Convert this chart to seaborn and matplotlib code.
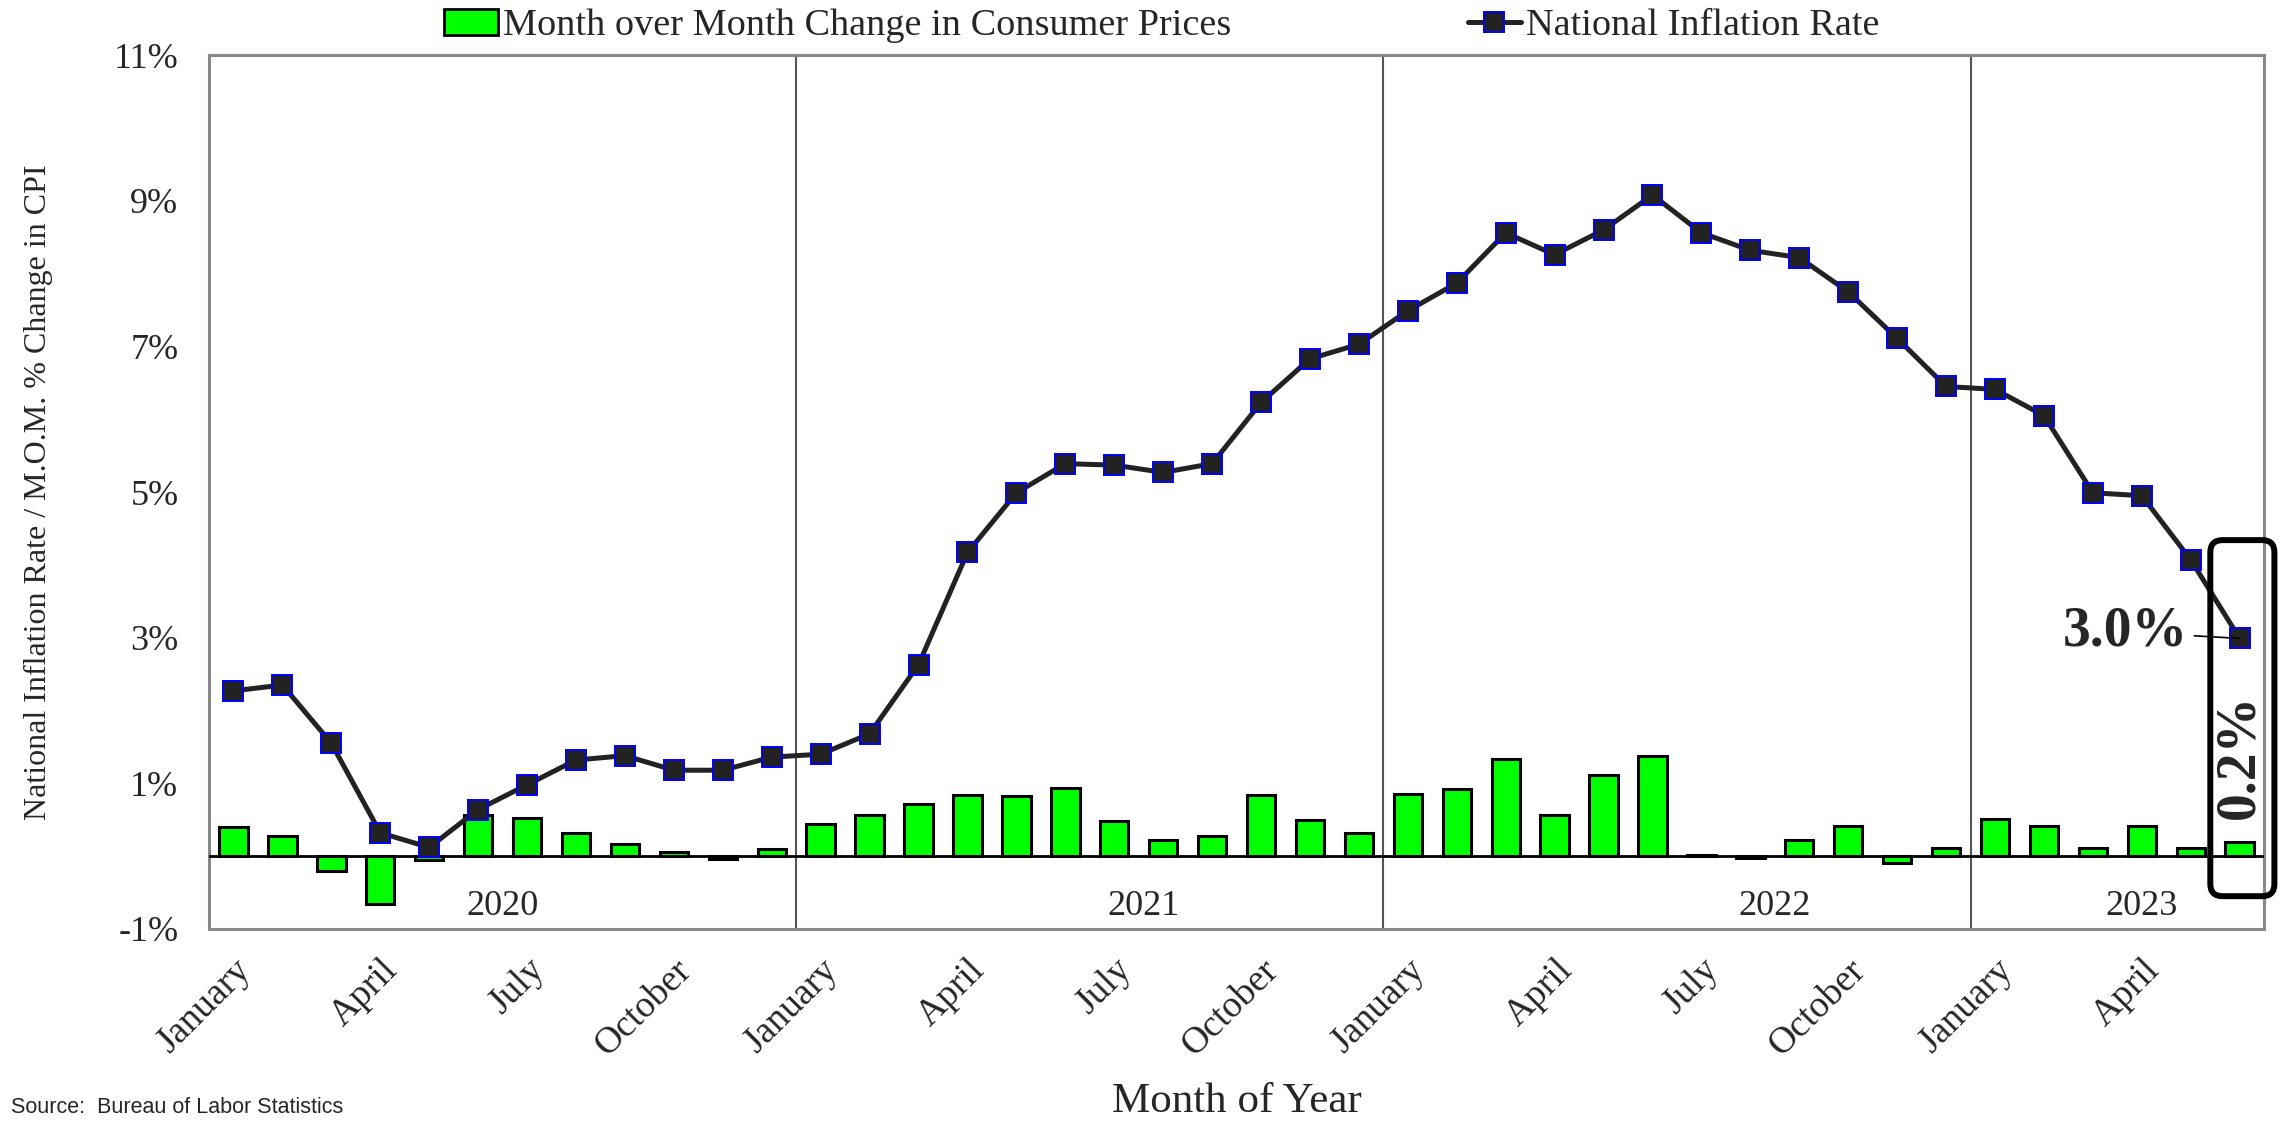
import numpy as np
import pandas as pd
import matplotlib
matplotlib.use("Agg")
import matplotlib.pyplot as plt
import seaborn as sns
from matplotlib.patches import Patch, FancyBboxPatch
from matplotlib.lines import Line2D

# data (Jan 2020 - Jun 2023)
inflation = [2.27, 2.35, 1.55, 0.32, 0.12, 0.64, 0.98, 1.32, 1.38, 1.18, 1.18, 1.36,
             1.40, 1.68, 2.63, 4.17, 4.99, 5.39, 5.37, 5.27, 5.39, 6.23, 6.83, 7.03,
             7.49, 7.87, 8.56, 8.26, 8.60, 9.08, 8.56, 8.32, 8.22, 7.75, 7.11, 6.45,
             6.41, 6.05, 4.99, 4.95, 4.07, 2.99]
mom_change = [0.40, 0.28, -0.20, -0.66, -0.05, 0.56, 0.52, 0.32, 0.16, 0.06, -0.04, 0.10,
              0.44, 0.56, 0.72, 0.84, 0.82, 0.94, 0.48, 0.22, 0.28, 0.84, 0.50, 0.32,
              0.86, 0.92, 1.34, 0.56, 1.11, 1.38, 0.01, -0.03, 0.22, 0.42, -0.10, 0.11,
              0.51, 0.41, 0.11, 0.41, 0.11, 0.20]
month_names = ["January", "April", "July", "October"]
years = ["2020", "2021", "2022", "2023"]
year_label_pos = [5.5, 18.6, 31.5, 39.0]

n = len(inflation)
df = pd.DataFrame({"idx": np.arange(n), "cpi": inflation, "mom": mom_change})

sns.set_style("white")
plt.rcParams["font.family"] = ["Liberation Serif", "DejaVu Serif"]

fig = plt.figure(figsize=(22.87, 11.26), dpi=100)
ax = fig.add_axes([0.0914, 0.175, 0.8986, 0.776])

sns.barplot(data=df, x="idx", y="mom", color="#00ff00", saturation=1,
            width=0.58, edgecolor="black", linewidth=2.2, ax=ax, zorder=3)
ax.axhline(0, color="black", lw=2.0, zorder=4)
sns.lineplot(data=df, x="idx", y="cpi", color="#222222", lw=3.6, marker="s",
             markersize=15, markerfacecolor="#222222", markeredgecolor="blue",
             markeredgewidth=1.4, ax=ax, zorder=6)

ax.set_xlim(-0.5, n - 0.5)
ax.set_ylim(-1, 11)
ax.set_yticks([-1, 1, 3, 5, 7, 9, 11])
ax.set_yticklabels([f"{v}%" for v in [-1, 1, 3, 5, 7, 9, 11]], fontsize=26)
xt = list(range(0, n, 3))
ax.set_xticks(xt)
ax.set_xticklabels([month_names[(i // 3) % 4] for i in xt], fontsize=27,
                   rotation=45, ha="right", rotation_mode="anchor")
ax.tick_params(axis="x", length=0, pad=17)
ax.tick_params(axis="y", length=8, width=1.5, color="#888888", direction="out", pad=14)
for s in ax.spines.values():
    s.set_color("#888888")
    s.set_linewidth(2.2)

# year separators and labels
for xv in [11.5, 23.5, 35.5]:
    ax.axvline(xv, color="#555555", lw=1.5, zorder=2)
for yl, xp in zip(years, year_label_pos):
    ax.text(xp, -0.69, yl, ha="center", va="center", fontsize=26)

ax.set_xlabel("Month of Year", fontsize=31, labelpad=15)
ax.set_ylabel("National Inflation Rate / M.O.M. % Change in CPI", fontsize=23, labelpad=44)

# legend
handles = [Patch(facecolor="#00ff00", edgecolor="black", lw=2),
           Line2D([], [], color="#222222", lw=3.6, marker="s", markersize=15,
                  markerfacecolor="#222222", markeredgecolor="blue", markeredgewidth=1.4)]
fig.legend(handles, ["Month over Month Change in Consumer Prices", "National Inflation Rate"],
           loc="center", bbox_to_anchor=(0.508, 0.977), ncol=2, frameon=False,
           fontsize=27.5, handlelength=1.4, handletextpad=0.12, columnspacing=6.2)

# annotations
ax.annotate("3.0%", xy=(n - 1, inflation[-1]), xytext=(39.95, 3.08),
            fontsize=40, fontweight="bold", ha="right", va="center",
            arrowprops=dict(arrowstyle="-", color="black", lw=1.2, shrinkA=2, shrinkB=0),
            zorder=8)
ax.text(n - 1, 1.37, "0.2%", rotation=90, fontsize=40, fontweight="bold",
        ha="center", va="center", zorder=8)
box = FancyBboxPatch((40.40, -0.55), 1.31, 4.89,
                     boxstyle="round,pad=0,rounding_size=0.25", mutation_aspect=0.67,
                     fill=False, edgecolor="black", lw=4.3, clip_on=False, zorder=9)
ax.add_patch(box)

fig.text(0.005, 0.016, "Source:  Bureau of Labor Statistics", fontsize=15.5,
         family="Liberation Sans", ha="left", va="center")

fig.savefig("out.png", dpi=100)
